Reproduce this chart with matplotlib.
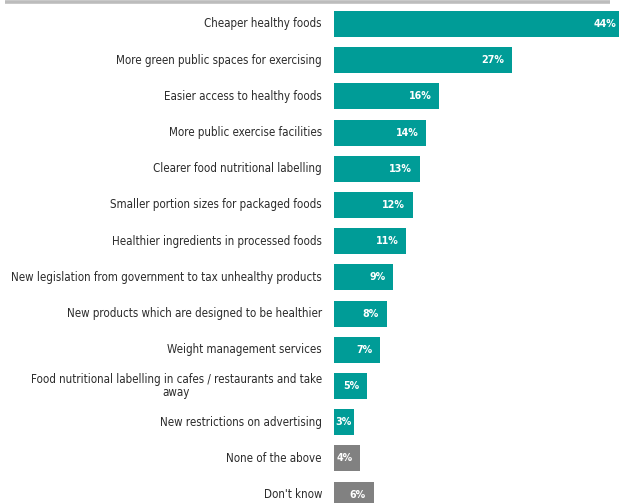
import os
import matplotlib
matplotlib.use("Agg")
import matplotlib.pyplot as plt
from matplotlib import font_manager
from matplotlib.lines import Line2D

categories = [
    "Cheaper healthy foods",
    "More green public spaces for exercising",
    "Easier access to healthy foods",
    "More public exercise facilities",
    "Clearer food nutritional labelling",
    "Smaller portion sizes for packaged foods",
    "Healthier ingredients in processed foods",
    "New legislation from government to tax unhealthy products",
    "New products which are designed to be healthier",
    "Weight management services",
    "Food nutritional labelling in cafes / restaurants and take\naway",
    "New restrictions on advertising",
    "None of the above",
    "Don't know",
]
values = [44, 27, 16, 14, 13, 12, 11, 9, 8, 7, 5, 3, 4, 6]
neutral = {"None of the above", "Don't know"}

TEAL = "#009c97"
GREY = "#818181"


def find_font(bold):
    files = [f.fname for f in font_manager.fontManager.ttflist]
    prefs = (["LiberationSansNarrow-Bold", "DejaVuSansCondensed-Bold", "Condensed-Bold", "Narrow-Bold"]
             if bold else
             ["LiberationSansNarrow-Regular", "DejaVuSansCondensed.", "Condensed-Regular", "Narrow-Regular"])
    for p in prefs:
        for f in files:
            if p in os.path.basename(f):
                return font_manager.FontProperties(fname=f)
    return font_manager.FontProperties(family="Liberation Sans",
                                       weight="bold" if bold else "normal")


label_font = find_font(False)
value_font = find_font(True)

W, H = 619, 503
fig = plt.figure(figsize=(W / 100, H / 100), dpi=100)
fig.patch.set_facecolor("white")
renderer = fig.canvas.get_renderer()

# size the category font so the longest one-line label spans ~311 px
probe = fig.text(0, 0, categories[7], fontproperties=label_font, fontsize=10)
w10 = probe.get_window_extent(renderer).width
probe.remove()
label_size = min(10.0, 10 * 311 / w10)

x0 = 334
px_per_pct = 6.59
row0, step = 24, 36.2
ax = fig.add_axes([x0 / W, 0, (W - x0) / W, 1])
ax.set_xlim(0, (W - x0) / px_per_pct)
ax.set_ylim((H - row0) / step, -row0 / step)
ax.axis("off")

colors = [GREY if c in neutral else TEAL for c in categories]
ypos = list(range(len(categories)))
ax.barh(ypos, values, height=0.72, color=colors, edgecolor="none", clip_on=False)

value_size = label_size * 0.92
for y, v, c in zip(ypos, values, categories):
    t = ax.text(v - 8 / px_per_pct, y, f"{v}%", ha="right", va="center",
                color="white", fontproperties=value_font, fontsize=value_size)
    if t.get_window_extent(renderer).width + 8 > v * px_per_pct:
        t.set_x(0.15)
        t.set_ha("left")
    ax.annotate(c, xy=(0, y), xytext=(-12, 0), textcoords="offset pixels",
                ha="right", va="center", multialignment="center",
                fontproperties=label_font, fontsize=label_size,
                color="#2b2b2b", annotation_clip=False, linespacing=1.05)

fig.add_artist(Line2D([5 / W, 610 / W], [1 - 1.5 / H, 1 - 1.5 / H],
                      transform=fig.transFigure, color="#bcbcbc", linewidth=2.6,
                      solid_capstyle="butt"))

fig.savefig("out.png", dpi=100)
